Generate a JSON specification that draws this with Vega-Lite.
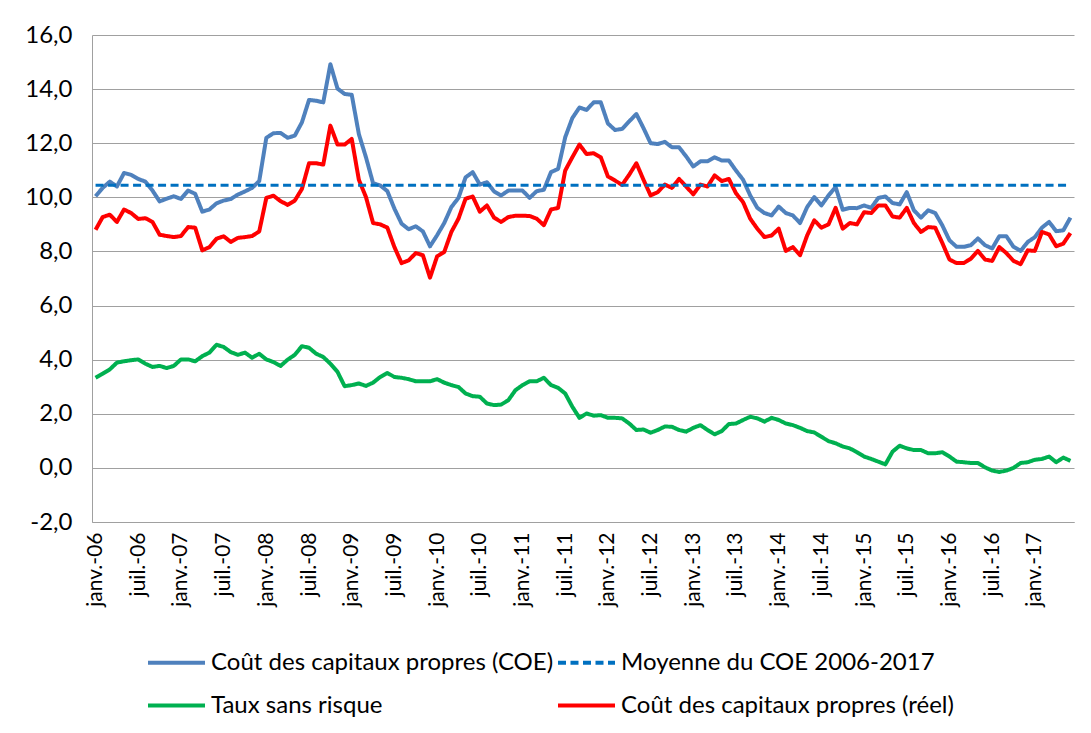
{
  "$schema": "https://vega.github.io/schema/vega-lite/v6.json",
  "width": 982,
  "height": 487,
  "autosize": {"type": "none"},
  "padding": {"left": 92, "top": 35, "right": 17, "bottom": 211},
  "background": "white",
  "config": {"view": {"stroke": null}, "font": "Lato"},
  "layer": [
    {
      "data": {"values": [
        {"d":"2006-01","coe":10.04,"reel":8.80,"taux":3.33},
        {"d":"2006-02","coe":10.35,"reel":9.27,"taux":3.48},
        {"d":"2006-03","coe":10.58,"reel":9.36,"taux":3.64},
        {"d":"2006-04","coe":10.40,"reel":9.09,"taux":3.89},
        {"d":"2006-05","coe":10.90,"reel":9.55,"taux":3.94},
        {"d":"2006-06","coe":10.83,"reel":9.42,"taux":3.98},
        {"d":"2006-07","coe":10.68,"reel":9.20,"taux":4.01},
        {"d":"2006-08","coe":10.58,"reel":9.23,"taux":3.85},
        {"d":"2006-09","coe":10.25,"reel":9.09,"taux":3.73},
        {"d":"2006-10","coe":9.85,"reel":8.62,"taux":3.77},
        {"d":"2006-11","coe":9.95,"reel":8.57,"taux":3.69},
        {"d":"2006-12","coe":10.04,"reel":8.53,"taux":3.77},
        {"d":"2007-01","coe":9.94,"reel":8.57,"taux":4.01},
        {"d":"2007-02","coe":10.25,"reel":8.90,"taux":4.01},
        {"d":"2007-03","coe":10.13,"reel":8.88,"taux":3.94},
        {"d":"2007-04","coe":9.47,"reel":8.04,"taux":4.13},
        {"d":"2007-05","coe":9.55,"reel":8.16,"taux":4.26},
        {"d":"2007-06","coe":9.78,"reel":8.47,"taux":4.55},
        {"d":"2007-07","coe":9.88,"reel":8.56,"taux":4.47},
        {"d":"2007-08","coe":9.94,"reel":8.35,"taux":4.28},
        {"d":"2007-09","coe":10.10,"reel":8.50,"taux":4.18},
        {"d":"2007-10","coe":10.22,"reel":8.53,"taux":4.26},
        {"d":"2007-11","coe":10.35,"reel":8.57,"taux":4.07},
        {"d":"2007-12","coe":10.60,"reel":8.74,"taux":4.22},
        {"d":"2008-01","coe":12.20,"reel":9.98,"taux":4.01},
        {"d":"2008-02","coe":12.37,"reel":10.06,"taux":3.91},
        {"d":"2008-03","coe":12.38,"reel":9.86,"taux":3.77},
        {"d":"2008-04","coe":12.20,"reel":9.72,"taux":4.00},
        {"d":"2008-05","coe":12.28,"reel":9.88,"taux":4.18},
        {"d":"2008-06","coe":12.77,"reel":10.31,"taux":4.50},
        {"d":"2008-07","coe":13.60,"reel":11.26,"taux":4.44},
        {"d":"2008-08","coe":13.57,"reel":11.26,"taux":4.22},
        {"d":"2008-09","coe":13.51,"reel":11.21,"taux":4.10},
        {"d":"2008-10","coe":14.92,"reel":12.65,"taux":3.85},
        {"d":"2008-11","coe":14.02,"reel":11.95,"taux":3.55},
        {"d":"2008-12","coe":13.82,"reel":11.95,"taux":3.02},
        {"d":"2009-01","coe":13.79,"reel":12.16,"taux":3.06},
        {"d":"2009-02","coe":12.34,"reel":10.65,"taux":3.12},
        {"d":"2009-03","coe":11.48,"reel":10.01,"taux":3.03},
        {"d":"2009-04","coe":10.52,"reel":9.05,"taux":3.15},
        {"d":"2009-05","coe":10.44,"reel":9.00,"taux":3.36},
        {"d":"2009-06","coe":10.23,"reel":8.88,"taux":3.51},
        {"d":"2009-07","coe":9.58,"reel":8.16,"taux":3.36},
        {"d":"2009-08","coe":9.03,"reel":7.57,"taux":3.33},
        {"d":"2009-09","coe":8.82,"reel":7.67,"taux":3.28},
        {"d":"2009-10","coe":8.93,"reel":7.94,"taux":3.20},
        {"d":"2009-11","coe":8.74,"reel":7.86,"taux":3.20},
        {"d":"2009-12","coe":8.19,"reel":7.03,"taux":3.20},
        {"d":"2010-01","coe":8.60,"reel":7.82,"taux":3.28},
        {"d":"2010-02","coe":9.05,"reel":7.98,"taux":3.15},
        {"d":"2010-03","coe":9.64,"reel":8.72,"taux":3.06},
        {"d":"2010-04","coe":9.98,"reel":9.21,"taux":2.99},
        {"d":"2010-05","coe":10.74,"reel":9.95,"taux":2.75},
        {"d":"2010-06","coe":10.93,"reel":10.03,"taux":2.65},
        {"d":"2010-07","coe":10.47,"reel":9.47,"taux":2.63},
        {"d":"2010-08","coe":10.56,"reel":9.70,"taux":2.38},
        {"d":"2010-09","coe":10.22,"reel":9.25,"taux":2.32},
        {"d":"2010-10","coe":10.07,"reel":9.09,"taux":2.34},
        {"d":"2010-11","coe":10.25,"reel":9.27,"taux":2.50},
        {"d":"2010-12","coe":10.25,"reel":9.32,"taux":2.87},
        {"d":"2011-01","coe":10.25,"reel":9.32,"taux":3.06},
        {"d":"2011-02","coe":9.98,"reel":9.31,"taux":3.20},
        {"d":"2011-03","coe":10.23,"reel":9.21,"taux":3.20},
        {"d":"2011-04","coe":10.28,"reel":8.97,"taux":3.33},
        {"d":"2011-05","coe":10.93,"reel":9.55,"taux":3.06},
        {"d":"2011-06","coe":11.05,"reel":9.61,"taux":2.96},
        {"d":"2011-07","coe":12.22,"reel":10.99,"taux":2.75},
        {"d":"2011-08","coe":12.93,"reel":11.48,"taux":2.26},
        {"d":"2011-09","coe":13.32,"reel":11.95,"taux":1.85},
        {"d":"2011-10","coe":13.23,"reel":11.60,"taux":2.01},
        {"d":"2011-11","coe":13.51,"reel":11.63,"taux":1.93},
        {"d":"2011-12","coe":13.51,"reel":11.48,"taux":1.95},
        {"d":"2012-01","coe":12.73,"reel":10.77,"taux":1.85},
        {"d":"2012-02","coe":12.49,"reel":10.62,"taux":1.85},
        {"d":"2012-03","coe":12.53,"reel":10.46,"taux":1.83},
        {"d":"2012-04","coe":12.81,"reel":10.84,"taux":1.64},
        {"d":"2012-05","coe":13.08,"reel":11.26,"taux":1.40},
        {"d":"2012-06","coe":12.56,"reel":10.65,"taux":1.42},
        {"d":"2012-07","coe":12.00,"reel":10.07,"taux":1.30},
        {"d":"2012-08","coe":11.97,"reel":10.19,"taux":1.40},
        {"d":"2012-09","coe":12.05,"reel":10.47,"taux":1.53},
        {"d":"2012-10","coe":11.85,"reel":10.35,"taux":1.52},
        {"d":"2012-11","coe":11.85,"reel":10.68,"taux":1.40},
        {"d":"2012-12","coe":11.51,"reel":10.40,"taux":1.34},
        {"d":"2013-01","coe":11.14,"reel":10.11,"taux":1.48},
        {"d":"2013-02","coe":11.33,"reel":10.47,"taux":1.58},
        {"d":"2013-03","coe":11.33,"reel":10.40,"taux":1.40},
        {"d":"2013-04","coe":11.48,"reel":10.81,"taux":1.24},
        {"d":"2013-05","coe":11.36,"reel":10.60,"taux":1.36},
        {"d":"2013-06","coe":11.36,"reel":10.68,"taux":1.62},
        {"d":"2013-07","coe":10.99,"reel":10.15,"taux":1.64},
        {"d":"2013-08","coe":10.65,"reel":9.82,"taux":1.77},
        {"d":"2013-09","coe":10.07,"reel":9.21,"taux":1.89},
        {"d":"2013-10","coe":9.61,"reel":8.84,"taux":1.83},
        {"d":"2013-11","coe":9.42,"reel":8.53,"taux":1.71},
        {"d":"2013-12","coe":9.33,"reel":8.59,"taux":1.85},
        {"d":"2014-01","coe":9.66,"reel":8.84,"taux":1.77},
        {"d":"2014-02","coe":9.42,"reel":8.02,"taux":1.64},
        {"d":"2014-03","coe":9.33,"reel":8.16,"taux":1.58},
        {"d":"2014-04","coe":9.05,"reel":7.86,"taux":1.48},
        {"d":"2014-05","coe":9.64,"reel":8.59,"taux":1.36},
        {"d":"2014-06","coe":10.01,"reel":9.15,"taux":1.31},
        {"d":"2014-07","coe":9.70,"reel":8.88,"taux":1.15},
        {"d":"2014-08","coe":10.07,"reel":9.00,"taux":0.99},
        {"d":"2014-09","coe":10.38,"reel":9.61,"taux":0.91},
        {"d":"2014-10","coe":9.54,"reel":8.84,"taux":0.79},
        {"d":"2014-11","coe":9.61,"reel":9.05,"taux":0.72},
        {"d":"2014-12","coe":9.60,"reel":9.00,"taux":0.58},
        {"d":"2015-01","coe":9.70,"reel":9.45,"taux":0.42},
        {"d":"2015-02","coe":9.61,"reel":9.42,"taux":0.33},
        {"d":"2015-03","coe":9.98,"reel":9.70,"taux":0.23},
        {"d":"2015-04","coe":10.03,"reel":9.70,"taux":0.13},
        {"d":"2015-05","coe":9.79,"reel":9.29,"taux":0.60},
        {"d":"2015-06","coe":9.74,"reel":9.25,"taux":0.82},
        {"d":"2015-07","coe":10.19,"reel":9.61,"taux":0.72},
        {"d":"2015-08","coe":9.52,"reel":9.05,"taux":0.66},
        {"d":"2015-09","coe":9.25,"reel":8.72,"taux":0.66},
        {"d":"2015-10","coe":9.52,"reel":8.90,"taux":0.54},
        {"d":"2015-11","coe":9.42,"reel":8.88,"taux":0.54},
        {"d":"2015-12","coe":8.96,"reel":8.31,"taux":0.58},
        {"d":"2016-01","coe":8.41,"reel":7.70,"taux":0.42},
        {"d":"2016-02","coe":8.17,"reel":7.57,"taux":0.23},
        {"d":"2016-03","coe":8.17,"reel":7.57,"taux":0.21},
        {"d":"2016-04","coe":8.23,"reel":7.73,"taux":0.18},
        {"d":"2016-05","coe":8.48,"reel":8.02,"taux":0.18},
        {"d":"2016-06","coe":8.23,"reel":7.70,"taux":0.02},
        {"d":"2016-07","coe":8.11,"reel":7.65,"taux":-0.10},
        {"d":"2016-08","coe":8.56,"reel":8.16,"taux":-0.15},
        {"d":"2016-09","coe":8.56,"reel":7.94,"taux":-0.10},
        {"d":"2016-10","coe":8.17,"reel":7.65,"taux":0.00},
        {"d":"2016-11","coe":8.02,"reel":7.53,"taux":0.18},
        {"d":"2016-12","coe":8.35,"reel":8.04,"taux":0.21},
        {"d":"2017-01","coe":8.53,"reel":8.02,"taux":0.30},
        {"d":"2017-02","coe":8.88,"reel":8.72,"taux":0.33},
        {"d":"2017-03","coe":9.09,"reel":8.63,"taux":0.42},
        {"d":"2017-04","coe":8.75,"reel":8.19,"taux":0.21},
        {"d":"2017-05","coe":8.78,"reel":8.29,"taux":0.38},
        {"d":"2017-06","coe":9.25,"reel":8.68,"taux":0.26}
      ]},
      "transform": [{"fold": ["coe", "taux", "reel"], "as": ["series", "v"]}],
      "mark": {"type": "line", "strokeWidth": 4, "strokeJoin": "round"},
      "encoding": {
        "x": {
          "field": "d", "type": "ordinal",
          "scale": {"type": "point", "padding": 0.5},
          "axis": {
            "values": ["2006-01","2006-07","2007-01","2007-07","2008-01","2008-07","2009-01","2009-07","2010-01","2010-07","2011-01","2011-07","2012-01","2012-07","2013-01","2013-07","2014-01","2014-07","2015-01","2015-07","2016-01","2016-07","2017-01"],
            "labelExpr": "(substring(datum.value,5,7)=='01' ? 'janv.-' : 'juil.-') + substring(datum.value,2,4)",
            "labelAngle": -90,
            "labelFontSize": 21,
            "labelColor": "#000000",
            "labelPadding": 10,
            "ticks": false,
            "grid": false,
            "domainColor": "#a0a0a0",
            "title": null
          }
        },
        "y": {
          "field": "v", "type": "quantitative",
          "scale": {"domain": [-2, 16], "nice": false},
          "axis": {
            "values": [-2, 0, 2, 4, 6, 8, 10, 12, 14, 16],
            "labelExpr": "replace(replace(format(datum.value,'.1f'),'.',','),'\u2212','-')",
            "labelFontSize": 24,
            "labelColor": "#000000",
            "labelPadding": 20,
            "ticks": false,
            "gridColor": "#a0a0a0",
            "domainColor": "#a0a0a0",
            "title": null
          }
        },
        "color": {
          "field": "series", "type": "nominal",
          "scale": {"domain": ["coe", "moy", "taux", "reel"], "range": ["#4F81BD", "#0070C0", "#00B050", "#FF0000"]},
          "legend": {
            "orient": "none", "legendX": 54, "legendY": 597,
            "columns": 2, "direction": "horizontal", "title": null,
            "symbolType": "stroke", "symbolSize": 3249, "symbolStrokeWidth": 4,
            "labelFontSize": 24, "labelColor": "#000000", "labelLimit": 800,
            "rowPadding": -13, "columnPadding": -4, "labelOffset": 4,
            "labelExpr": "datum.label == 'coe' ? 'Coût des capitaux propres (COE)' : datum.label == 'moy' ? 'Moyenne du COE 2006-2017' : datum.label == 'taux' ? 'Taux sans risque' : 'Coût des capitaux propres (réel)'"
          }
        },
        "strokeDash": {
          "field": "series", "type": "nominal",
          "scale": {"domain": ["coe", "moy", "taux", "reel"], "range": [[1, 0], [8, 4.5], [1, 0], [1, 0]]}
        }
      }
    },
    {
      "data": {"values": [
        {"d": "2006-01", "series": "moy", "v": 10.45},
        {"d": "2017-06", "series": "moy", "v": 10.45}
      ]},
      "mark": {"type": "line", "strokeWidth": 3},
      "encoding": {
        "x": {"field": "d", "type": "ordinal"},
        "y": {"field": "v", "type": "quantitative"},
        "color": {"field": "series", "type": "nominal"},
        "strokeDash": {"field": "series", "type": "nominal"}
      }
    }
  ]
}
